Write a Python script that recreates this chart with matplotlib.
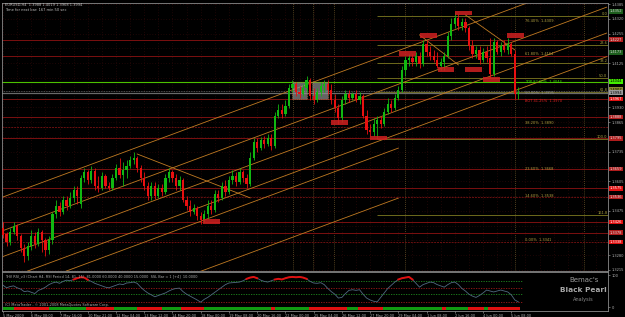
import numpy as np
import matplotlib.pyplot as plt
from matplotlib.patches import Rectangle
from matplotlib.transforms import blended_transform_factory as blend

# EURUSD H4 bars, 5 May 2009 00:00 .. 5 Jun 2009 16:00
opens = [
    1.3399, 1.3373, 1.3338, 1.3382, 1.3408, 1.3364, 1.3311, 1.3276, 1.3320, 1.3364,
    1.3329, 1.3382, 1.3347, 1.3303, 1.3347, 1.3461, 1.3496, 1.3470, 1.3523, 1.3496,
    1.3531, 1.3567, 1.3505, 1.3619, 1.3646, 1.3611, 1.3650, 1.3584, 1.3575, 1.3628,
    1.3584, 1.3575, 1.3619, 1.3663, 1.3633, 1.3655, 1.3672, 1.3699, 1.3707, 1.3663,
    1.3619, 1.3584, 1.3540, 1.3584, 1.3540, 1.3575, 1.3558, 1.3619, 1.3646, 1.3619,
    1.3584, 1.3611, 1.3523, 1.3496, 1.3470, 1.3487, 1.3452, 1.3435, 1.3461, 1.3496,
    1.3479, 1.3549, 1.3531, 1.3584, 1.3558, 1.3611, 1.3628, 1.3602, 1.3646, 1.3619,
    1.3593, 1.3707, 1.3778, 1.3751, 1.3787, 1.3769, 1.3795, 1.3760, 1.3892, 1.3919,
    1.3901, 1.3936, 1.4015, 1.4033, 1.3998, 1.3989, 1.4015, 1.4051, 1.3980, 1.3963,
    1.3998, 1.4024, 1.4033, 1.4007, 1.3963, 1.3927, 1.3883, 1.3963, 1.3989, 1.3971,
    1.3989, 1.3963, 1.3980, 1.3892, 1.3831, 1.3822, 1.3857, 1.3875, 1.3857, 1.3910,
    1.3945, 1.3927, 1.3971, 1.4007, 1.4095, 1.4139, 1.4147, 1.4130, 1.4156, 1.4121,
    1.4209, 1.4174, 1.4156, 1.4139, 1.4112, 1.4130, 1.4156, 1.4244, 1.4297, 1.4323,
    1.4288, 1.4306, 1.4279, 1.4200, 1.4165, 1.4183, 1.4139, 1.4174, 1.4147, 1.4077,
    1.4218, 1.4174, 1.4200, 1.4183, 1.4209, 1.4165, 1.3988]
highs = [
    1.3426, 1.3382, 1.3399, 1.3426, 1.3417, 1.3373, 1.3329, 1.3338, 1.3391, 1.3382,
    1.3399, 1.3391, 1.3355, 1.3364, 1.3470, 1.3523, 1.3514, 1.3540, 1.3540, 1.3558,
    1.3584, 1.3584, 1.3633, 1.3663, 1.3655, 1.3672, 1.3663, 1.3628, 1.3646, 1.3637,
    1.3602, 1.3637, 1.3681, 1.3707, 1.3690, 1.3699, 1.3716, 1.3734, 1.3716, 1.3677,
    1.3646, 1.3602, 1.3602, 1.3602, 1.3593, 1.3593, 1.3637, 1.3663, 1.3655, 1.3637,
    1.3628, 1.3619, 1.3540, 1.3523, 1.3505, 1.3496, 1.3470, 1.3479, 1.3523, 1.3523,
    1.3567, 1.3567, 1.3602, 1.3611, 1.3628, 1.3655, 1.3646, 1.3663, 1.3655, 1.3637,
    1.3734, 1.3795, 1.3795, 1.3800, 1.3804, 1.3813, 1.3813, 1.3910, 1.3945, 1.3945,
    1.3963, 1.4033, 1.4051, 1.4042, 1.4024, 1.4033, 1.4068, 1.4059, 1.4015, 1.4015,
    1.4042, 1.4051, 1.4051, 1.4033, 1.3989, 1.3945, 1.3980, 1.4007, 1.4007, 1.3998,
    1.4007, 1.3998, 1.3989, 1.3919, 1.3857, 1.3883, 1.3892, 1.3892, 1.3927, 1.3971,
    1.3963, 1.3989, 1.4024, 1.4112, 1.4156, 1.4165, 1.4165, 1.4174, 1.4174, 1.4227,
    1.4227, 1.4200, 1.4183, 1.4174, 1.4147, 1.4174, 1.4262, 1.4323, 1.4350, 1.4341,
    1.4323, 1.4323, 1.4288, 1.4227, 1.4200, 1.4200, 1.4191, 1.4200, 1.4235, 1.4235,
    1.4227, 1.4218, 1.4227, 1.4235, 1.4218, 1.4183, 1.4019]
lows = [
    1.3355, 1.3320, 1.3325, 1.3373, 1.3347, 1.3294, 1.3250, 1.3259, 1.3303, 1.3311,
    1.3320, 1.3294, 1.3276, 1.3285, 1.3329, 1.3443, 1.3452, 1.3461, 1.3479, 1.3487,
    1.3514, 1.3505, 1.3487, 1.3602, 1.3593, 1.3597, 1.3567, 1.3558, 1.3567, 1.3575,
    1.3567, 1.3567, 1.3611, 1.3619, 1.3584, 1.3619, 1.3663, 1.3681, 1.3646, 1.3602,
    1.3567, 1.3523, 1.3523, 1.3527, 1.3531, 1.3540, 1.3549, 1.3602, 1.3602, 1.3567,
    1.3567, 1.3514, 1.3479, 1.3452, 1.3461, 1.3435, 1.3417, 1.3426, 1.3443, 1.3461,
    1.3470, 1.3514, 1.3523, 1.3540, 1.3549, 1.3593, 1.3584, 1.3593, 1.3602, 1.3575,
    1.3584, 1.3699, 1.3734, 1.3743, 1.3751, 1.3760, 1.3743, 1.3751, 1.3883, 1.3883,
    1.3892, 1.3927, 1.3998, 1.3980, 1.3971, 1.3980, 1.3998, 1.3963, 1.3945, 1.3954,
    1.3980, 1.3998, 1.3989, 1.3945, 1.3910, 1.3857, 1.3866, 1.3945, 1.3954, 1.3963,
    1.3954, 1.3945, 1.3883, 1.3813, 1.3804, 1.3804, 1.3791, 1.3839, 1.3848, 1.3901,
    1.3910, 1.3919, 1.3963, 1.3998, 1.4068, 1.4112, 1.4112, 1.4112, 1.4103, 1.4112,
    1.4156, 1.4139, 1.4130, 1.4103, 1.4095, 1.4095, 1.4147, 1.4227, 1.4279, 1.4271,
    1.4271, 1.4262, 1.4183, 1.4147, 1.4147, 1.4121, 1.4130, 1.4130, 1.4059, 1.4068,
    1.4165, 1.4156, 1.4174, 1.4165, 1.4156, 1.3966, 1.3968]
closes = [
    1.3369, 1.3338, 1.3382, 1.3408, 1.3364, 1.3311, 1.3276, 1.3320, 1.3364, 1.3329,
    1.3382, 1.3347, 1.3303, 1.3347, 1.3461, 1.3496, 1.3470, 1.3523, 1.3496, 1.3531,
    1.3567, 1.3540, 1.3619, 1.3646, 1.3611, 1.3650, 1.3584, 1.3575, 1.3628, 1.3584,
    1.3575, 1.3619, 1.3663, 1.3633, 1.3655, 1.3672, 1.3699, 1.3707, 1.3663, 1.3619,
    1.3584, 1.3540, 1.3584, 1.3540, 1.3575, 1.3558, 1.3619, 1.3646, 1.3619, 1.3584,
    1.3611, 1.3523, 1.3496, 1.3470, 1.3487, 1.3452, 1.3435, 1.3461, 1.3496, 1.3479,
    1.3549, 1.3531, 1.3584, 1.3558, 1.3611, 1.3628, 1.3602, 1.3646, 1.3619, 1.3593,
    1.3707, 1.3778, 1.3751, 1.3787, 1.3769, 1.3795, 1.3760, 1.3892, 1.3919, 1.3901,
    1.3936, 1.4015, 1.4033, 1.3998, 1.3989, 1.4015, 1.4051, 1.3980, 1.3963, 1.3998,
    1.4024, 1.4033, 1.4007, 1.3963, 1.3927, 1.3883, 1.3963, 1.3989, 1.3971, 1.3989,
    1.3963, 1.3980, 1.3892, 1.3831, 1.3822, 1.3857, 1.3875, 1.3857, 1.3910, 1.3945,
    1.3927, 1.3971, 1.4007, 1.4095, 1.4139, 1.4147, 1.4130, 1.4156, 1.4121, 1.4209,
    1.4174, 1.4156, 1.4139, 1.4112, 1.4130, 1.4156, 1.4244, 1.4297, 1.4323, 1.4288,
    1.4306, 1.4279, 1.4200, 1.4165, 1.4183, 1.4139, 1.4174, 1.4147, 1.4077, 1.4218,
    1.4174, 1.4200, 1.4183, 1.4209, 1.4165, 1.3988, 1.3994]

rsi = [
    68, 60, 64, 66, 60, 56, 48, 50, 46, 42, 52, 56, 62, 70, 75, 78, 74, 80, 84, 82,
    86, 90, 93, 92, 85, 80, 74, 70, 66, 62, 60, 64, 68, 72, 70, 75, 76, 78, 74, 62,
    52, 44, 38, 32, 36, 40, 44, 50, 55, 58, 59, 48, 40, 34, 28, 22, 15, 24, 30, 38,
    46, 54, 62, 70, 75, 76, 77, 78, 82, 88, 92, 94, 90, 84, 80, 78, 82, 86, 88, 86,
    90, 93, 94, 93, 94, 92, 88, 80, 75, 74, 76, 70, 58, 48, 40, 28, 30, 42, 52, 54,
    52, 54, 40, 28, 22, 18, 16, 30, 44, 58, 68, 78, 86, 90, 92, 94, 86, 74, 62, 70,
    74, 78, 76, 70, 66, 62, 70, 76, 78, 70, 58, 50, 40, 34, 30, 36, 44, 53, 50, 47,
    50, 53, 50, 47, 38, 22, 16]
rsi_levels = [81, 60, 40, 15]
rsi_level_colors = ['#1f8a1f', '#a01818', '#1f8a1f', '#a01818']

# trend bar under the RSI: (first bar, last bar, state)
trend_segments = [(0, 3, 'up'), (3, 13, 'dn'), (13, 23.5, 'up'), (23.5, 31.5, 'dn'),
                  (31.5, 38, 'up'), (38, 45, 'dn'), (45, 50.5, 'up'), (50.5, 57, 'dn'),
                  (57, 76, 'up'), (76, 77, 'dn'), (77, 86.7, 'up'), (86.7, 97.5, 'dn'),
                  (97.5, 100.5, 'up'), (100.5, 107.6, 'dn'), (107.6, 124.4, 'up'),
                  (124.4, 125.5, 'dn'), (125.5, 131.7, 'up'), (131.7, 136.3, 'dn'),
                  (136.3, 137.4, 'up'), (137.4, 146.5, 'dn')]

date_labels = ['5 May 2009', '6 May 08:00', '7 May 16:00', '10 May 21:00', '12 May 04:00',
               '13 May 12:00', '14 May 20:00', '18 May 00:00', '19 May 08:00', '20 May 16:00',
               '22 May 00:00', '25 May 04:00', '26 May 12:00', '27 May 20:00', '29 May 04:00',
               '1 Jun 08:00', '2 Jun 16:00', '4 Jun 00:00', '5 Jun 08:00']
date_bars = [8 * k for k in range(len(date_labels))]

price_ticks = [1.3215, 1.3280, 1.3345, 1.3410, 1.3475, 1.3540, 1.3605, 1.3670, 1.3735,
               1.3800, 1.3865, 1.3930, 1.3995, 1.4060, 1.4125, 1.4190, 1.4255, 1.4320, 1.4385]

# support / resistance lines
red_lines = [1.4227, 1.4156, 1.3967, 1.3888, 1.3795, 1.3659, 1.3575, 1.3426, 1.3378]
red_dotted = [1.3844, 1.3536, 1.3338]
green_line = 1.4044
bid_price = 1.3994
gray_dotted = 1.4003

# fibonacci retracement (low bar 106 -> high bar 128)
fib_start = 106
fib_high, fib_low = 1.4332, 1.3791
fib_ratios = [0.0, 0.236, 0.382, 0.5, 0.618, 1.0, 1.618]
fib_names = ['0.0', '23.6', '38.2', '50.0', '61.8', '100.0', '161.8']

# channel lines: (bar a, price a, bar b, price b)
channels = [(0, 1.3536, 171, 1.4519), (0, 1.3388, 171, 1.4371), (0, 1.3274, 171, 1.4257),
            (0, 1.3170, 171, 1.4153), (0, 1.3107, 112, 1.3751), (0, 1.2887, 112, 1.3531)]
slopes_down = [(38, 1.3725, 70, 1.3532), (118, 1.4249, 129, 1.4117), (131, 1.4337, 145, 1.4183)]

# zigzag swing markers (bar, price)
swing_marks = [(59, 1.3428), (95.3, 1.3864), (106.4, 1.3795), (114.6, 1.4167),
               (120.5, 1.4246), (125.5, 1.4097), (130.5, 1.4345), (133.4, 1.4097),
               (138.4, 1.4053), (145.2, 1.4246)]
range_boxes = [(81.9, 86.1, 1.3967, 1.4042), (87.5, 92.1, 1.3967, 1.4042)]
separators = [82.2, 87.8, 93.8, 113.9, 145, 164.6]

axis_marks = [(1.4352, '1.4352', '#1d5e1d', '#d0d0d0'), (1.4227, '1.4227', '#b01c1c', '#e0e0e0'),
              (1.4173, '1.4173', '#1d5e1d', '#d0d0d0'), (1.4044, '1.4044', '#44ee00', '#000000'),
              (1.4007, '1.4007', '#8a8a30', '#000000'), (1.3994, '1.3994', '#9a9a9a', '#000000'),
              (1.3967, '1.3967', '#e01010', '#ffffff'), (1.3888, '1.3888', '#b01c1c', '#e0e0e0'),
              (1.3795, '1.3795', '#b01c1c', '#e0e0e0'), (1.3659, '1.3659', '#b01c1c', '#e0e0e0'),
              (1.3575, '1.3575', '#e01010', '#ffffff'), (1.3536, '1.3536', '#b01c1c', '#e0e0e0'),
              (1.3426, '1.3426', '#e01010', '#ffffff'), (1.3378, '1.3378', '#b01c1c', '#e0e0e0'),
              (1.3338, '1.3338', '#e01010', '#ffffff')]

fib_texts = [(1.4309, '76.40%  1.4309', '#b0a040'), (1.4164, '61.80%  1.4164', '#b0a040'),
             (1.4040, 'TOP 82.60%  1.4044', '#40e000'), (1.3995, '50.00%  1.3995', '#909090'),
             (1.3960, 'BOT 41.25%  1.3970', '#e02020'), (1.3860, '38.20%  1.3890', '#b0a040'),
             (1.3660, '23.60%  1.3668', '#b0a040'), (1.3540, '14.60%  1.3538', '#b0a040'),
             (1.3345, '0.00%  1.3341', '#b0a040')]

W, H = 625, 317
fig = plt.figure(figsize=(W / 100, H / 100), dpi=100, facecolor='black')
ax = fig.add_axes([2 / W, 1 - 271 / H, 606 / W, 268.5 / H], facecolor='black')
ax2 = fig.add_axes([2 / W, 1 - 311 / H, 606 / W, 39 / H], facecolor='black')

n = len(closes)
bars = np.arange(n)
o, h, l, c = map(np.array, (opens, highs, lows, closes))
up = c >= o
col = np.where(up, '#11b811', '#e81010')

# grid dots
for p in price_ticks:
    ax.axhline(p, color='#3a0c0c', lw=0.5, ls=(0, (1, 3)), zorder=0)
for b in range(0, 172, 4):
    ax.axvline(b, color='#3a0c0c', lw=0.5, ls=(0, (1, 3)), zorder=0)

for b in separators:
    ax.axvline(b, color='#6a5428', lw=0.6, ls=(0, (1, 1.5)), zorder=1)

for p in red_lines:
    ax.axhline(p, color='#7a1010', lw=0.7, zorder=1)
for p in red_dotted:
    ax.axhline(p, color='#6a1010', lw=0.7, ls=(0, (2, 1)), zorder=1)
ax.axhline(green_line, color='#4cc000', lw=0.8, zorder=2)
ax.axhline(bid_price, color='#6a6a6a', lw=0.9, zorder=2)
ax.axhline(gray_dotted, color='#6a6a6a', lw=0.6, ls=(0, (1, 1)), zorder=2)

for r, nm in zip(fib_ratios, fib_names):
    fp = fib_high - r * (fib_high - fib_low)
    ax.hlines(fp, fib_start, 171.4, color='#6e6a1c', lw=0.7, zorder=1)
    ax.text(171.2, fp, nm, color='#a8a040', fontsize=2.6, ha='right', va='bottom')

for b0, p0, b1, p1 in channels:
    ax.plot([b0, b1], [p0, p1], color='#c07a22', lw=0.6, zorder=2)
for b0, p0, b1, p1 in slopes_down:
    ax.plot([b0, b1], [p0, p1], color='#c07a22', lw=0.6, zorder=2)

for b0, b1, p0, p1 in range_boxes:
    ax.add_patch(Rectangle((b0, p0), b1 - b0, p1 - p0, facecolor='#909090', alpha=0.7,
                           edgecolor='#c07a22', ls=':', lw=0.6, zorder=2))

for b, p in swing_marks:
    ax.add_patch(Rectangle((b - 2.4, p - 0.001), 4.8, 0.002, facecolor='#d02020',
                           alpha=0.85, lw=0, zorder=4))

ax.vlines(bars, l, h, color=col, lw=0.6, zorder=3)
ax.bar(bars, np.maximum(np.abs(c - o), 0.00025), bottom=np.minimum(o, c), width=0.62,
       color=col, lw=0, zorder=3)

for p, t, fc in fib_texts:
    ax.text(148, p, t, color=fc, fontsize=2.6, va='center', ha='left', zorder=5)

ax.set_xlim(-0.3, 171.4)
ax.set_ylim(1.32102, 1.43916)
ax.yaxis.tick_right()
# plain price labels hidden where a coloured marker label sits on top of them
mark_prices = [m[0] for m in axis_marks]
shown = [p for p in price_ticks if min(abs(p - m) for m in mark_prices) > 0.0022]
ax.set_yticks(shown)
ax.set_yticklabels([f'{p:.4f}' for p in shown])
ax.tick_params(axis='y', colors='#b0b0b0', labelsize=2.6, length=1.5, width=0.4, pad=1)
ax.set_xticks([])
for s in ax.spines.values():
    s.set_color('#8a8a8a')
    s.set_linewidth(0.6)

tr = blend(ax.transAxes, ax.transData)
for p, t, fc, tc in axis_marks:
    ax.text(1.003, p, t, transform=tr, fontsize=2.6, color=tc, va='center', ha='left',
            bbox=dict(boxstyle='square,pad=0.12', fc=fc, ec='none'), zorder=6, clip_on=False)

# RSI panel
for lv, lc in zip(rsi_levels, rsi_level_colors):
    ax2.hlines(lv, 0, n, color=lc, lw=0.6, ls=(0, (1.5, 1.5)))
r = np.array(rsi, dtype=float)
ax2.plot(bars, r, color='#506a80', lw=0.6)
hot = np.where(r >= 85, r, np.nan)
ax2.plot(bars, hot, color='#e01010', lw=1.4)
for b0, b1, st in trend_segments:
    ax2.broken_barh([(b0, b1 - b0)], (-9.5, 9), facecolors='#119a11' if st == 'up' else '#e01010')
ax2.text(0.5, 5, '(C) MetaTrader - © 2001-2008 MetaQuotes Software Corp.', color='#b0b0b0',
         fontsize=2.5, va='center')
ax2.text(0.5, 96, 'THV RSI_v3 (Chart H4, RSI Period 14, 81, 15)  81.0000 60.0000 40.0000 15.0000  '
         'SSL Bar = 1 [+4]  10.0000', color='#b0b0b0', fontsize=2.5, va='center')
ax2.text(164.5, 85, "Bemac's", color='#9a9a9a', fontsize=5, ha='center', va='center')
ax2.text(164.5, 54, 'Black Pearl', color='#a8a8a8', fontsize=5.3, fontweight='bold',
         ha='center', va='center')
ax2.text(164.5, 24, 'Analysis', color='#8a8a8a', fontsize=3.6, ha='center', va='center')

ax2.set_xlim(-0.3, 171.4)
ax2.set_ylim(-12.5, 109.4)
ax2.yaxis.tick_right()
ax2.set_yticks([100, 0])
ax2.set_yticklabels(['100', '0'])
ax2.tick_params(axis='y', colors='#b0b0b0', labelsize=2.6, length=1.5, width=0.4, pad=1)
ax2.set_xticks(date_bars)
ax2.set_xticklabels(date_labels, ha='left')
ax2.tick_params(axis='x', colors='#b0b0b0', labelsize=2.5, length=1.5, width=0.4, pad=0.6)
for s in ax2.spines.values():
    s.set_color('#8a8a8a')
    s.set_linewidth(0.6)

fig.text(5 / W, 1 - 5 / H, 'EURUSD,H4  1.3988 1.4019 1.3968 1.3994', color='#c0c0c0',
         fontsize=2.6, va='center')
fig.text(5 / W, 1 - 10 / H, 'Time for next bar: 167 min 50 sec', color='#c0c0c0',
         fontsize=2.6, va='center')

fig.savefig('out.png', dpi=100, facecolor='black')
